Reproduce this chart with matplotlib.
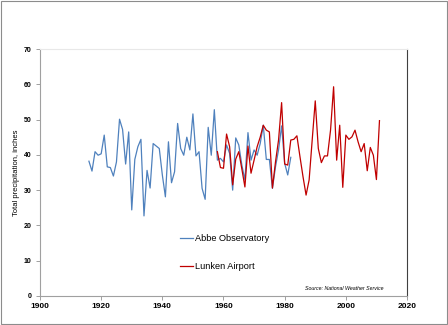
import matplotlib
matplotlib.use("Agg")
from matplotlib import pyplot as plt
from matplotlib.patches import Rectangle

# Abbe Observatory, 1916-1982
abbe_years = list(range(1916, 1983))
abbe_vals = [38.2, 35.4, 40.9, 39.9, 40.3, 45.6, 36.6, 36.4, 34.0, 38.0,
             50.1, 47.2, 37.4, 46.5, 24.4, 38.7, 42.3, 44.4, 22.7, 35.6,
             30.6, 43.2, 42.5, 41.8, 34.3, 28.1, 43.7, 32.1, 35.2, 48.9,
             41.8, 39.9, 45.0, 41.4, 51.6, 39.7, 40.9, 30.5, 27.4, 47.8,
             39.9, 52.8, 38.5, 39.0, 38.0, 42.8, 40.4, 30.0, 44.8, 42.8,
             37.1, 32.9, 46.3, 38.5, 41.4, 39.9, 43.2, 48.4, 38.7, 38.7,
             30.5, 36.6, 41.4, 48.2, 37.6, 34.3, 39.3]

# Lunken Airport, 1958-2011
lunken_years = list(range(1958, 2012))
lunken_vals = [40.9, 36.4, 36.2, 45.9, 42.3, 31.5, 38.8, 40.9, 36.0, 30.9,
               42.5, 34.8, 38.5, 42.3, 45.0, 48.4, 47.0, 46.5, 30.6, 38.0,
               44.2, 54.8, 37.4, 37.1, 44.2, 44.4, 45.4, 39.5, 33.8, 28.6,
               32.9, 44.2, 55.3, 41.8, 37.8, 39.7, 39.7, 47.0, 59.3, 38.5,
               48.4, 30.8, 45.6, 44.4, 45.1, 47.0, 43.7, 40.9, 43.2, 35.5,
               42.1, 39.9, 33.0, 49.7]

x_ticks = [1900, 1920, 1940, 1960, 1980, 2000, 2020]
y_ticks = [0, 10, 20, 30, 40, 50, 60, 70]

plt.rcParams['font.family'] = ['Liberation Sans', 'DejaVu Sans']

fig = plt.figure(figsize=(4.48, 3.25), dpi=100)
ax = fig.add_axes([40/448, 1 - 296/325, 367/448, 247/325])

ax.plot(abbe_years, abbe_vals, color='#4f81bd', lw=0.9, label='Abbe Observatory')
ax.plot(lunken_years, lunken_vals, color='#c00000', lw=0.9, label='Lunken Airport')

ax.set_xlim(1900, 2020)
ax.set_ylim(0, 70)
ax.set_xticks(x_ticks)
ax.set_yticks(y_ticks)
ax.tick_params(axis='x', labelsize=6, length=3, width=0.6, color='#909090', pad=2)
ax.tick_params(axis='y', labelsize=5, length=3, width=0.6, color='#909090', pad=3)
for lab in ax.get_xticklabels() + ax.get_yticklabels():
    lab.set_fontweight('bold')

ax.spines['left'].set_color('#a0a0a0')
ax.spines['bottom'].set_color('#a0a0a0')
ax.spines['top'].set_color('#e8e8e8')
ax.spines['right'].set_color('#404040')
for s in ax.spines.values():
    s.set_linewidth(0.8)

ax.set_ylabel('Total precipitation, inches', fontsize=5.5, labelpad=3)

ax.legend(loc='upper left', bbox_to_anchor=(0.36, 0.285), frameon=False,
          fontsize=6.6, handlelength=1.4, handletextpad=0.2, labelspacing=2.1)

ax.text(0.935, 0.02, 'Source: National Weather Service', transform=ax.transAxes,
        fontsize=3.8, style='italic', ha='right', va='bottom')

fig.patches.append(Rectangle((0.5/448, 1 - 324/325), 446.5/448, 323.5/325,
                             transform=fig.transFigure, fill=False,
                             edgecolor='#8c8c8c', lw=0.8))

fig.savefig('out.png', dpi=100)
